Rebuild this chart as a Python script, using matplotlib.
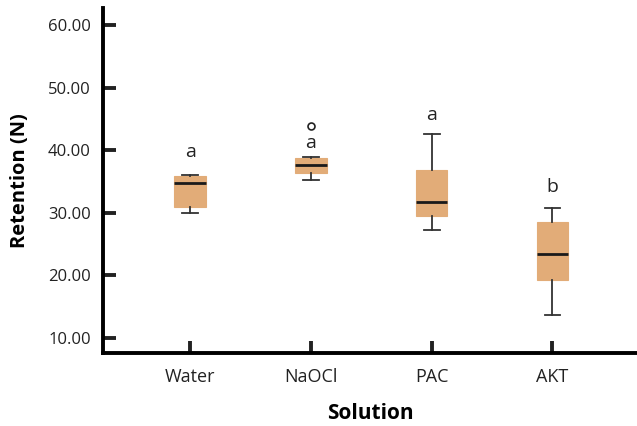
import matplotlib.pyplot as plt
import numpy as np

""" Data """

solutions = ['Water', 'NaOCl', 'PAC', 'AKT']
q1 = [31.0, 36.4, 29.5, 19.3]
medians = [34.7, 37.7, 31.8, 23.4]
q3 = [35.9, 38.75, 36.8, 28.5]
whislo = [30.0, 35.3, 27.3, 13.7]
whishi = [36.0, 38.9, 42.6, 30.7]
outliers = [[], [43.9], [], []]
letters = ['a', 'a', 'a', 'b']
letter_y = [39.7, 41.1, 45.6, 34.1]
yticks = [10, 20, 30, 40, 50, 60]

""" Plot """

plt.rcParams['font.family'] = ['Open Sans', 'DejaVu Sans']

fig = plt.figure(figsize=(6.37, 4.26), dpi=100)
ax = fig.add_axes([0.162, 0.171, 0.838, 0.81])

stats = []
for i, name in enumerate(solutions):
    stats.append(dict(label=name, q1=q1[i], med=medians[i], q3=q3[i],
                      whislo=whislo[i], whishi=whishi[i], fliers=outliers[i]))

pos = np.arange(1, len(solutions) + 1)
ax.bxp(stats, positions=pos, widths=0.26, patch_artist=True,
       boxprops=dict(facecolor='#e2ac78', edgecolor='#e2ac78', linewidth=0.8),
       medianprops=dict(color='#1a1a1a', linewidth=2.0),
       whiskerprops=dict(color='#333333', linewidth=1.3),
       capprops=dict(color='#333333', linewidth=1.3),
       capwidths=0.13,
       flierprops=dict(marker='o', markersize=5, markerfacecolor='white',
                       markeredgecolor='#222222', markeredgewidth=1.2))

for p, t, y in zip(pos, letters, letter_y):
    ax.text(p, y, t, ha='center', va='center', fontsize=14, color='#222222')

ax.set_xlim(0.28, 4.70)
ax.set_ylim(7.6, 62.7)
ax.set_yticks(yticks)
ax.set_yticklabels(['%.2f' % v for v in yticks])
ax.set_xticks(pos)
ax.set_xticklabels(solutions)

ax.spines['right'].set_visible(False)
ax.spines['top'].set_visible(False)
ax.spines['left'].set_linewidth(2.8)
ax.spines['bottom'].set_linewidth(2.8)
ax.tick_params(axis='both', direction='in', length=9, width=2.8,
               colors='#222222', labelcolor='#222222')
ax.tick_params(axis='y', pad=9, labelsize=12)
ax.tick_params(axis='x', pad=11, labelsize=13)

ax.set_ylabel('Retention (N)', fontsize=14.5, fontweight='bold', labelpad=13)
ax.set_xlabel('Solution', fontsize=15, fontweight='bold', labelpad=12)

fig.savefig('out.png', dpi=100)
